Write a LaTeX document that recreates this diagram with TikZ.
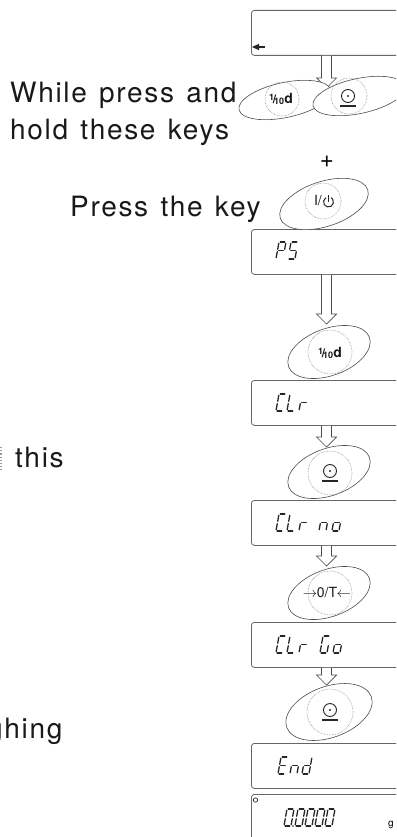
\documentclass[tikz,border=0pt]{standalone}
\usepackage{fontspec}
\setmainfont{TeX Gyre Heros}
\newfontfamily\lblfont[LetterSpace=6,WordSpace=1.3]{TeX Gyre Heros}
\usetikzlibrary{shapes.geometric,calc}
\tikzset{
 lbl/.style={font=\lblfont\fontsize{28}{33}\selectfont, inner sep=0pt, text=black!90},
 dispbox/.style={draw=black!60, line width=0.8pt, rounded corners=3pt, minimum width=170pt, minimum height=45pt, anchor=north west, inner sep=0pt},
 keyell/.style={ellipse, draw=black!70, line width=0.6pt, fill=white, inner sep=0pt, minimum width=86pt, minimum height=47pt, rotate=20},
 topell/.style={ellipse, draw=black!70, line width=0.6pt, fill=white, inner sep=0pt, minimum width=94pt, minimum height=35pt, rotate=12},
 dotring/.style={draw=black!45, densely dotted, line width=0.6pt},
 seg/.style={line width=1.3pt, line cap=round, draw=black!85},
 blockarr/.style={draw=black!70, line width=0.7pt, fill=white},
 keytxt/.style={font=\fontsize{13}{13}\selectfont, inner sep=0pt, text=black!90},
}
\newcommand\segchar[3]{%
 \begin{scope}[shift={(#1,#2)}, xslant=0.18]
  \coordinate (sa1) at (1.2,0);   \coordinate (sa2) at (5.8,0);
  \coordinate (sb1) at (7,1.3);   \coordinate (sb2) at (7,7.3);
  \coordinate (sc1) at (7,9.7);   \coordinate (sc2) at (7,15.7);
  \coordinate (sd1) at (1.2,17);  \coordinate (sd2) at (5.8,17);
  \coordinate (se1) at (0,9.7);   \coordinate (se2) at (0,15.7);
  \coordinate (sf1) at (0,1.3);   \coordinate (sf2) at (0,7.3);
  \coordinate (sg1) at (1.2,8.5); \coordinate (sg2) at (5.8,8.5);
  \foreach \sgm in {#3}{\draw[seg] (s\sgm1) -- (s\sgm2);}
 \end{scope}}
\newcommand\blockarrow[2]{%
 \draw[blockarr] ($(#1)+(-5,0)$) -- ($(#2)+(-5,-10)$) -- ($(#2)+(-10,-10)$) -- (#2)
   -- ($(#2)+(10,-10)$) -- ($(#2)+(5,-10)$) -- ($(#1)+(5,0)$);}
\newcommand\zerosym[1]{%
 \draw[line width=0.9pt, black!85] ($(#1)+(0,-1)$) circle (6.5pt);
 \fill[black!85] ($(#1)+(0,-1)$) circle (1.1pt);
 \draw[line width=1.1pt, black!85] ($(#1)+(-8,9)$) -- ($(#1)+(8,9)$);}
\newcommand\tenthkey{\bfseries\raisebox{2.5pt}{\fontsize{9}{9}\selectfont 1}\kern-1.2pt{\fontsize{12}{12}\selectfont/}\kern-2.2pt\raisebox{-1.5pt}{\fontsize{9}{9}\selectfont 10}\kern0.3pt{\fontsize{14}{14}\selectfont d}}
\begin{document}
\begin{tikzpicture}[x=1pt,y=-1pt]
\useasboundingbox (0,0) rectangle (396,837);
\clip (0,0) rectangle (396,837);
\coordinate (ax) at (326.5,0);

% display boxes
\node[dispbox] (b0) at (251,10) {};
\node[dispbox] (b1) at (251,229) {};
\node[dispbox] (b2) at (251,380) {};
\node[dispbox] (b3) at (251,500) {};
\node[dispbox] (b4) at (251,622) {};
\node[dispbox] (b5) at (251,743) {};
\node[dispbox] (b6) at (251,794) {};

% top box mark
\fill[black!85] (252,47) -- (259,43.8) -- (259,50.2) -- cycle;
\draw[line width=1.3pt, black!85] (258,47) -- (265,47);

% arrows
\coordinate (t1) at (326.5,88);
\coordinate (t2) at (326.5,324);
\coordinate (t3) at (326.5,447);
\coordinate (t4) at (326.5,566);
\coordinate (t5) at (326.5,685);
\blockarrow{b0.south -| ax}{t1}
\blockarrow{b1.south -| ax}{t2}
\blockarrow{b2.south -| ax}{t3}
\blockarrow{b3.south -| ax}{t4}
\blockarrow{b4.south -| ax}{t5}

% texts
\node[lbl, anchor=base west] (tw) at (10,103) {While press and};
\node[lbl, anchor=base west] (th) at (10,140) {hold these keys};
\node[lbl, anchor=base west] (tp) at (70,216) {Press the key};
\node[lbl, anchor=base west] (tt) at (15,467) {this};
\node[lbl, anchor=base west] (tg) at (-13,738) {ghing};
\draw[black!40, dotted, line width=1.2pt] (1,447) -- (1,470);

% top pair of keys
\node[topell] (kA) at (285,100) {};
\node[topell] (kB) at (359,96) {};
\draw[dotring] (282,99) circle (17pt);
\draw[dotring] (349,96) circle (18pt);
\node[keytxt] (lA) at (281,99) {\tenthkey};
\zerosym{348,97}

\node[font=\fontsize{24}{24}\selectfont, inner sep=0pt] (plus) at (327,162) {+};

% I/O key
\node[keyell, minimum width=92pt, minimum height=45pt, rotate=-2] (kP) at (324,204) {};
\draw[dotring] (323,201) circle (18pt);
\node[keytxt, anchor=east, font=\fontsize{14}{14}\selectfont] (lP) at (322,201) {I/};
\draw[line width=1pt, black!85] (328.5,195) -- (328.5,201.5);
\draw[line width=1pt, black!85] (326,197.67) arc[start angle=120, end angle=420, radius=5pt];

% lower keys
\node[keyell] (k2) at (329,352) {};
\draw[dotring] (330,352) circle (22pt);
\node[keytxt] (l2) at (330,353) {\tenthkey};

\node[keyell] (k3) at (329,472) {};
\draw[dotring] (330,473) circle (22pt);
\zerosym{330,472}

\node[keyell] (k4) at (329,593) {};
\draw[dotring] (330,593) circle (22pt);
\node[keytxt, font=\fontsize{14}{14}\selectfont] (l4) at (327,593) {$\rightarrow$\kern-0.5pt0/T\kern-0.5pt$\leftarrow$};

\node[keyell, minimum width=90pt, minimum height=51pt] (k5) at (329,712) {};
\draw[dotring] (330,712) circle (23pt);
\zerosym{330,711}

% segment texts
\segchar{279}{242}{a,b,f,g,e}
\segchar{291}{242}{a,f,g,c,d}

\segchar{279}{394}{a,f,e,d}
\segchar{290}{394}{f,e,d}
\segchar{302}{394}{e,g}

\segchar{279}{514}{a,f,e,d}
\segchar{290}{514}{f,e,d}
\segchar{302}{514}{e,g}
\segchar{322}{514}{e,g,c}
\segchar{335}{514}{e,g,c,d}

\segchar{279}{636}{a,f,e,d}
\segchar{290}{636}{f,e,d}
\segchar{302}{636}{e,g}
\segchar{323}{636}{a,f,e,d,c}
\segchar{336}{636}{e,g,c,d}

\segchar{281}{757}{a,f,g,e,d}
\segchar{293}{757}{e,g,c}
\segchar{305}{757}{b,c,d,e,g}

\segchar{287}{809}{a,b,c,d,e,f}
\segchar{298}{809}{a,b,c,d,e,f}
\segchar{308}{809}{a,b,c,d,e,f}
\segchar{318}{809}{a,b,c,d,e,f}
\segchar{328}{809}{a,b,c,d,e,f}
\fill[black!85] (293,826) circle (0.9pt);
\draw[line width=0.7pt, black!85] (255.5,800) circle (2.2pt);
\node[font=\fontsize{10}{10}\selectfont, inner sep=0pt, anchor=base] (gu) at (391,826) {g};
\end{tikzpicture}
\end{document}
